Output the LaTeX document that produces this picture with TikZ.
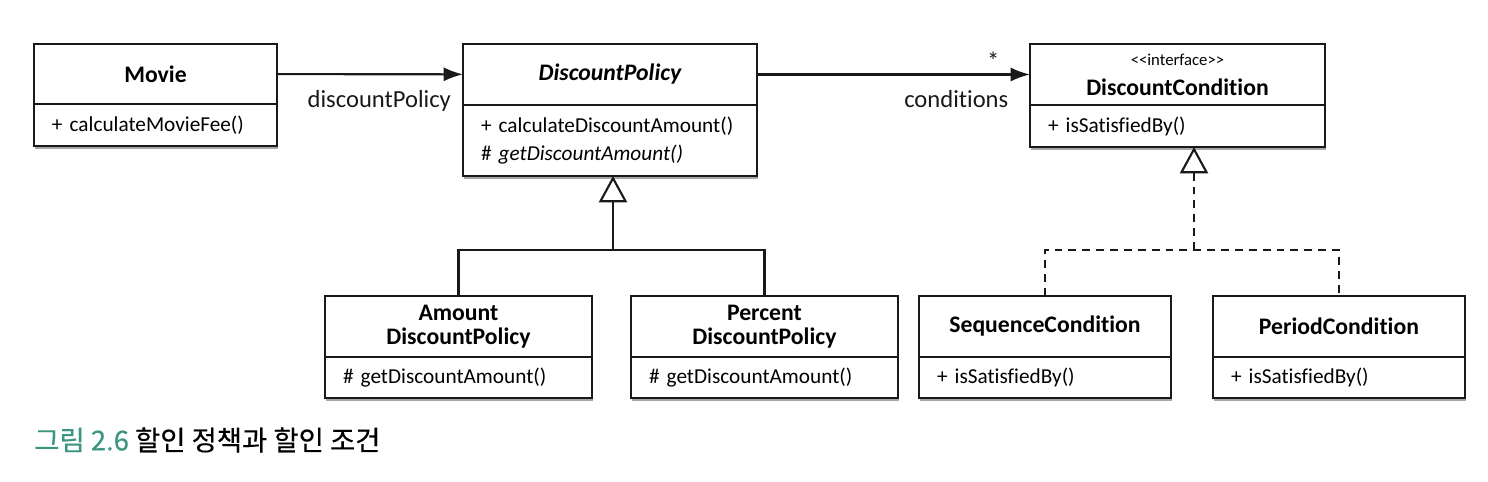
\documentclass[tikz,border=0pt]{standalone}
\usepackage{fontspec}
\setmainfont{Carlito}[Ligatures={NoCommon,NoContextual}]
\newfontfamily\krfont{Noto Sans CJK KR}[FakeBold=0.3]
\usetikzlibrary{positioning,arrows.meta,shadows}

\definecolor{capteal}{RGB}{58,150,128}
\definecolor{ink}{RGB}{25,25,25}

\tikzset{boxshadow/.style={drop shadow={shadow xshift=0.4pt,shadow yshift=-1.8pt,opacity=0.35,fill=black}}}
\tikzset{classname/.style={draw=ink,line width=1.1pt,fill=white,outer sep=0pt,align=center,
    font=\fontsize{13.5}{14}\selectfont\bfseries,boxshadow}}
\tikzset{classops/.style={draw=ink,line width=1.1pt,fill=white,outer sep=0pt,align=left,
    inner xsep=0.36cm,font=\fontsize{12.1}{15.5}\selectfont,
    execute at begin node={\hyphenpenalty=10000\relax},boxshadow}}
\tikzset{assoc/.style={ink,line width=1.2pt,-{Latex[length=11pt,width=8pt]}}}
\tikzset{inherit/.style={ink,line width=1.2pt}}
\tikzset{realize/.style={inherit,dash pattern=on 4.5pt off 3.4pt}}
\tikzset{hollow/.style={-{Triangle[open,length=15pt,width=16pt,line width=1.2pt]}}}
\tikzset{lbl/.style={text=ink,font=\fontsize{14}{16}\selectfont}}

\begin{document}
\begin{tikzpicture}[x=0.02cm,y=-0.02cm]
    \useasboundingbox (0,0) rectangle (1488,482);
    % top row
    \node[classname,minimum width=4.86cm,minimum height=1.2cm,anchor=north west] (movie) at (34,44) {Movie};
    \node[classops,text width=4.14cm,minimum height=0.84cm,below=0pt of movie] (movieops) {+ calculateMovieFee()};

    \node[classname,minimum width=5.88cm,minimum height=1.22cm,anchor=north west] (dp) at (463,44) {\itshape DiscountPolicy};
    \node[classops,text width=5.16cm,minimum height=1.42cm,below=0pt of dp] (dpops) {+ calculateDiscountAmount()\\\# \itshape getDiscountAmount()};

    \node[classname,minimum width=5.9cm,minimum height=1.22cm,anchor=north west] (dc) at (1030,44)
        {{\fontsize{9.5}{11}\selectfont\mdseries <{}<interface>{}>}\\[3pt]DiscountCondition};
    \node[classops,text width=5.18cm,minimum height=0.84cm,below=0pt of dc] (dcops) {+ isSatisfiedBy()};

    % bottom row
    \node[classname,minimum width=5.34cm,minimum height=1.22cm,anchor=north west] (amount) at (325,296) {Amount\\DiscountPolicy};
    \node[classops,text width=4.62cm,minimum height=0.82cm,below=0pt of amount] (amountops) {\# getDiscountAmount()};

    \node[classname,minimum width=5.34cm,minimum height=1.22cm,anchor=north west] (percent) at (631,296) {Percent\\DiscountPolicy};
    \node[classops,text width=4.62cm,minimum height=0.82cm,below=0pt of percent] (percentops) {\# getDiscountAmount()};

    \node[classname,minimum width=5.04cm,minimum height=1.22cm,anchor=north west] (seq) at (919,296) {SequenceCondition};
    \node[classops,text width=4.32cm,minimum height=0.82cm,below=0pt of seq] (seqops) {+ isSatisfiedBy()};

    \node[classname,minimum width=5.04cm,minimum height=1.22cm,anchor=north west] (period) at (1213,296) {PeriodCondition};
    \node[classops,text width=4.32cm,minimum height=0.82cm,below=0pt of period] (periodops) {+ isSatisfiedBy()};

    % associations
    \draw[assoc] (movie) -- node[lbl,pos=0.55,below=5pt] (policylbl) {discountPolicy} (dp);
    \draw[assoc] (dp) -- node[lbl,pos=0.73,below=5pt] (condlbl) {conditions}
        node[lbl,pos=0.865,above=-1pt] (manylbl) {*} (dc);

    % generalization
    \coordinate (pjoin) at (613,250);
    \draw[inherit] (amount.north) |- (pjoin) -| (percent.north);
    \draw[inherit,hollow] (pjoin) -- (pjoin |- dpops.south);

    % realization
    \coordinate (cjoin) at (1194,250);
    \draw[realize] (seq.north) |- (cjoin) -| (period.north);
    \draw[realize,hollow] (cjoin) -- (cjoin |- dcops.south);

    % caption
    \node[anchor=west,inner sep=0pt,font=\krfont\fontsize{15.6}{18}\selectfont] (caption) at (34,440)
        {\textcolor{capteal}{그림 2.6} 할인 정책과 할인 조건};
\end{tikzpicture}
\end{document}
